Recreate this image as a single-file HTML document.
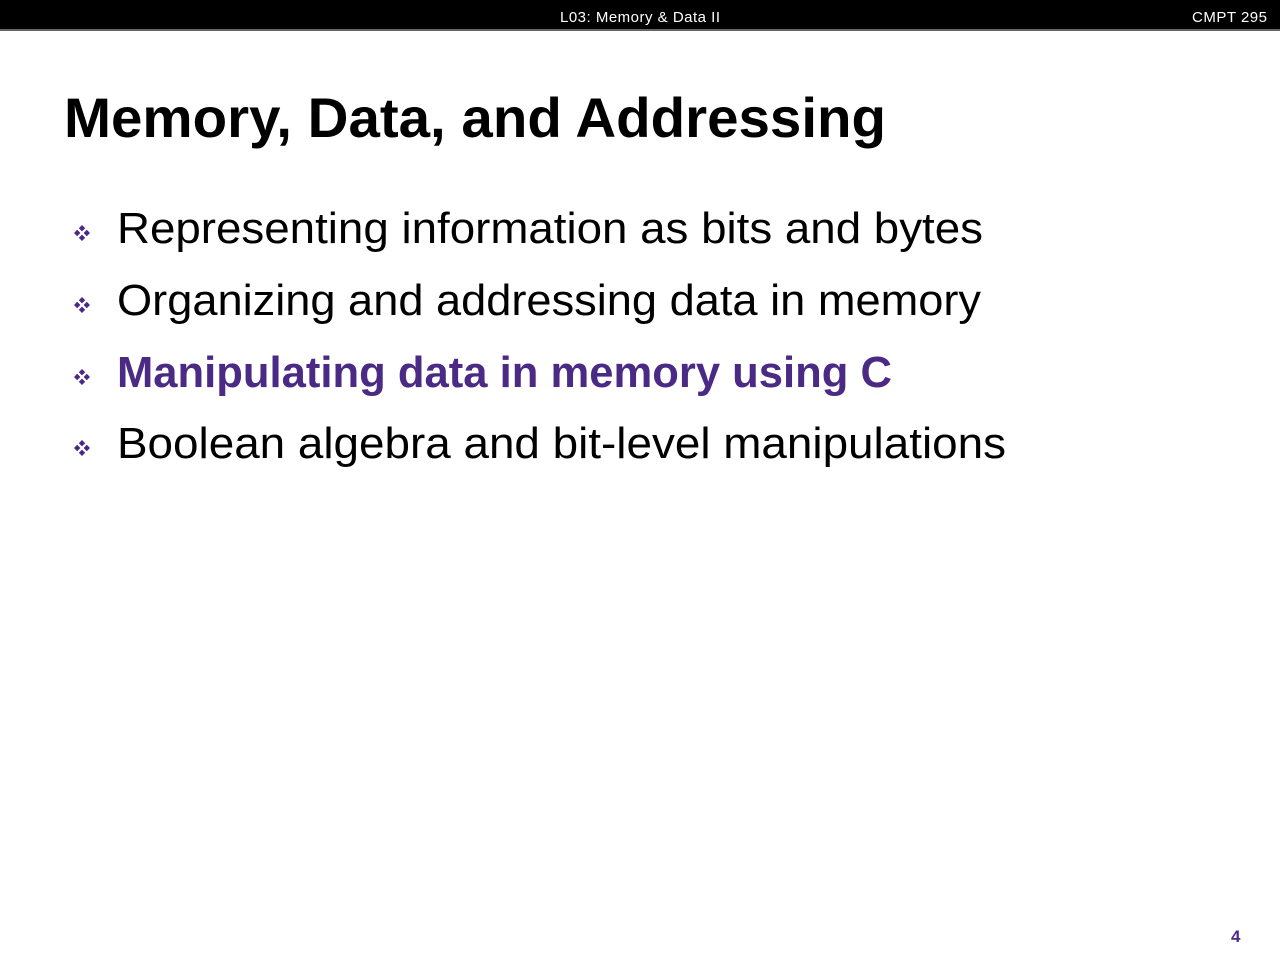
<!DOCTYPE html>
<html><head><style>
body{margin:0;width:1280px;height:960px;background:#fff;overflow:hidden;font-family:"Liberation Sans",sans-serif}
</style></head><body>
<svg width="1280" height="960" xmlns="http://www.w3.org/2000/svg">
<rect x="0" y="0" width="1280" height="29" fill="#000"/>
<rect x="0" y="29" width="1280" height="2" fill="#666"/>
<text x="560" y="22" font-size="15" fill="#fff" textLength="160" font-family="Liberation Sans">L03:  Memory &amp; Data II</text>
<text x="1192" y="22" font-size="15" fill="#fff" textLength="75" font-family="Liberation Sans">CMPT 295</text>
<text x="64" y="137" font-size="56" font-weight="bold" fill="#000" textLength="822" lengthAdjust="spacingAndGlyphs" font-family="Liberation Sans">Memory, Data, and Addressing</text>
<defs><g id="b" fill="#4b2a86">
<path d="M0,-8 l3.2,3.2 l-3.2,3.2 l-3.2,-3.2z"/>
<path d="M0,1.6 l3.2,3.2 l-3.2,3.2 l-3.2,-3.2z"/>
<path d="M-4.8,-3.2 l3.2,3.2 l-3.2,3.2 l-3.2,-3.2z"/>
<path d="M4.8,-3.2 l3.2,3.2 l-3.2,3.2 l-3.2,-3.2z"/>
</g></defs>
<use href="#b" x="82" y="233"/>
<use href="#b" x="82" y="305"/>
<use href="#b" x="82" y="377"/>
<use href="#b" x="82" y="448"/>
<g font-size="44" font-family="Liberation Sans">
<text x="117" y="243" textLength="866" lengthAdjust="spacingAndGlyphs">Representing information as bits and bytes</text>
<text x="117" y="315" textLength="864" lengthAdjust="spacingAndGlyphs">Organizing and addressing data in memory</text>
<text x="117" y="387" textLength="775" lengthAdjust="spacingAndGlyphs" font-weight="bold" fill="#4b2a86">Manipulating data in memory using C</text>
<text x="117" y="458" textLength="889" lengthAdjust="spacingAndGlyphs">Boolean algebra and bit-level manipulations</text>
</g>
<text x="1231" y="942" font-size="17" font-weight="bold" fill="#4b2a86" font-family="Liberation Sans">4</text>
</svg>
</body></html>
